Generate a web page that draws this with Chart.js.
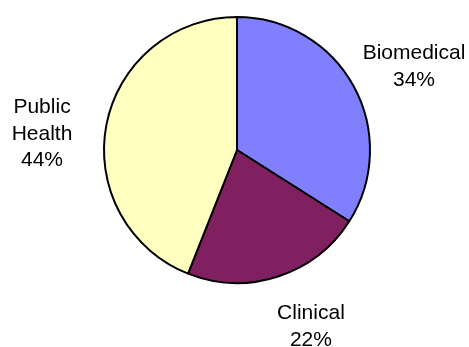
<!DOCTYPE html>
<html>
<head>
<meta charset="utf-8">
<script src="https://cdn.jsdelivr.net/npm/chart.js@4/dist/chart.umd.min.js"></script>
<style>
  html, body { margin: 0; padding: 0; background: #ffffff; }
  #wrap { width: 469px; height: 347px; position: relative; }
</style>
</head>
<body>
<div id="wrap"><canvas id="pie" width="469" height="347"></canvas></div>
<script>
// Share of work by area
const categories = ['Biomedical', 'Clinical', 'Public Health'];
const shares = [34, 22, 44];
// Label text lines for each slice
const labelLines = [['Biomedical'], ['Clinical'], ['Public', 'Health']];

const sliceColors = ['#8080ff', '#802060', '#ffffc0'];

// Label placement: angle (degrees clockwise from 12 o'clock) and distance as a multiple of the pie radius
const labelPolar = [
  { angle: 64.3, dist: 1.477 },
  { angle: 157.1, dist: 1.429 },
  { angle: 275.2, dist: 1.472 }
];

const FONT_SIZE = 21;
const LINE_H = 26.6;
const CAP = FONT_SIZE * 0.716;

const outsideLabels = {
  id: 'outsideLabels',
  afterDatasetsDraw(chart) {
    const ctx = chart.ctx;
    const meta = chart.getDatasetMeta(0);
    const total = shares.reduce((a, b) => a + b, 0);
    ctx.save();
    ctx.fillStyle = '#000000';
    ctx.font = FONT_SIZE + 'px "Liberation Sans", Arial, sans-serif';
    ctx.textAlign = 'center';
    ctx.textBaseline = 'alphabetic';
    meta.data.forEach((arc, i) => {
      const { x, y, outerRadius } = arc.getProps(['x', 'y', 'outerRadius'], true);
      const p = labelPolar[i];
      const a = p.angle * Math.PI / 180;
      const cx = x + Math.sin(a) * outerRadius * p.dist;
      const cy = y - Math.cos(a) * outerRadius * p.dist;
      const pct = Math.round(shares[i] / total * 100) + '%';
      const lines = labelLines[i].concat([pct]);
      const n = lines.length;
      lines.forEach((t, k) => {
        const base = cy - (n - 1) * LINE_H / 2 + k * LINE_H + CAP / 2;
        ctx.fillText(t, cx, base);
      });
    });
    ctx.restore();
  }
};

new Chart(document.getElementById('pie'), {
  type: 'pie',
  data: {
    labels: categories,
    datasets: [{
      data: shares,
      backgroundColor: sliceColors,
      borderColor: '#000000',
      borderWidth: 2
    }]
  },
  options: {
    responsive: false,
    animation: false,
    layout: { padding: { left: 103, right: 98, top: 16, bottom: 63 } },
    plugins: {
      legend: { display: false },
      tooltip: { enabled: false }
    }
  },
  plugins: [outsideLabels]
});
</script>
</body>
</html>
